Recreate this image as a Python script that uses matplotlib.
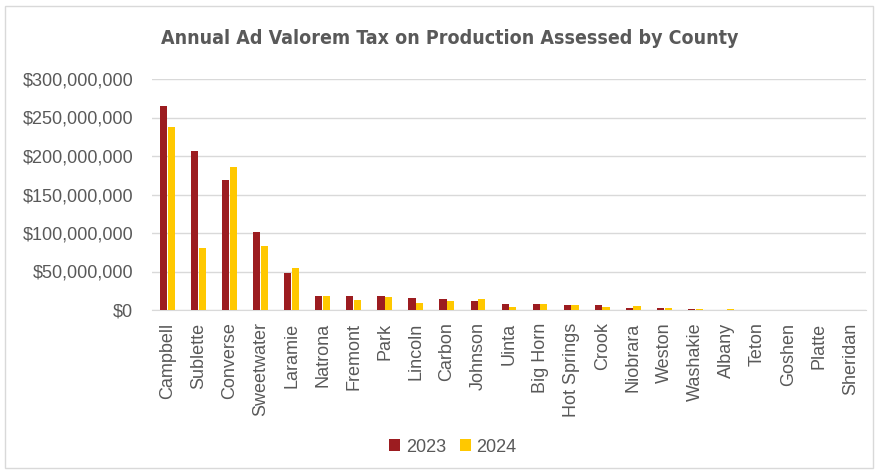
import numpy as np
import matplotlib.pyplot as plt
from matplotlib.ticker import FuncFormatter
from matplotlib.patches import Rectangle

condados = ['Campbell', 'Sublette', 'Converse', 'Sweetwater', 'Laramie', 'Natrona',
            'Fremont', 'Park', 'Lincoln', 'Carbon', 'Johnson', 'Uinta', 'Big Horn',
            'Hot Springs', 'Crook', 'Niobrara', 'Weston', 'Washakie', 'Albany',
            'Teton', 'Goshen', 'Platte', 'Sheridan']
# millones de dolares
valores2023 = [264.3, 206.5, 168.3, 101.7, 47.8, 18.3, 18.3, 17.8, 15.7, 14.3, 12.2,
               8.3, 7.4, 6.5, 6.1, 2.6, 2.2, 1.7, 0.3, 0, 0, 0, 0]
valores2024 = [237.4, 80.9, 185.7, 83.0, 54.8, 18.3, 13.0, 17.0, 9.6, 12.2, 14.3,
               3.9, 7.4, 6.5, 4.3, 4.8, 2.2, 1.3, 1.1, 0, 0, 0, 0]

gris = '#595959'
rojo = '#9C1C20'
amarillo = '#FFC800'
plt.rcParams['font.family'] = ['Liberation Sans', 'DejaVu Sans']

fig = plt.figure(figsize=(8.77, 4.71), dpi=100)
fig.patches.append(Rectangle((0.006, 0.006), 0.99, 0.982, transform=fig.transFigure,
                             fill=False, edgecolor='#d9d9d9', linewidth=1))
ax = fig.add_axes([152/877, 1-310/471, (866-152)/877, (310-79)/471])

x = np.arange(len(condados))
ancho = 0.23
ax.bar(x - 0.125, np.array(valores2023)*1e6, ancho, color=rojo, label='2023', zorder=3)
ax.bar(x + 0.125, np.array(valores2024)*1e6, ancho, color=amarillo, label='2024', zorder=3)

ax.set_ylim(0, 300e6)
ax.set_yticks(np.arange(0, 300e6+1, 50e6))
ax.yaxis.set_major_formatter(FuncFormatter(lambda v, p: f'${v:,.0f}'))
ax.set_xlim(-0.5, len(condados) - 0.5)
ax.set_xticks(x)
ax.set_xticklabels(condados, rotation=90)
ax.tick_params(axis='both', length=0, colors=gris)
ax.tick_params(axis='y', labelsize=13, pad=13.5)
ax.tick_params(axis='x', labelsize=13, pad=9)
ax.grid(axis='y', color='#d9d9d9', linewidth=1, zorder=0)
for s in ['top', 'right', 'left']:
    ax.spines[s].set_visible(False)
ax.spines['bottom'].set_color('#d9d9d9')

fig.text(450/877, 1-38/471, 'Annual Ad Valorem Tax on Production Assessed by County',
         ha='center', va='center', fontsize=14, fontweight='bold', color=gris,
         family='DejaVu Sans', fontstretch='condensed')

fig.legend(loc='center', bbox_to_anchor=(453/877, 1-447/471), ncol=2, frameon=False,
           fontsize=13, labelcolor=gris, handlelength=0.6, handleheight=0.6,
           handletextpad=0.3, columnspacing=0.8)

fig.savefig('out.png', dpi=100)
